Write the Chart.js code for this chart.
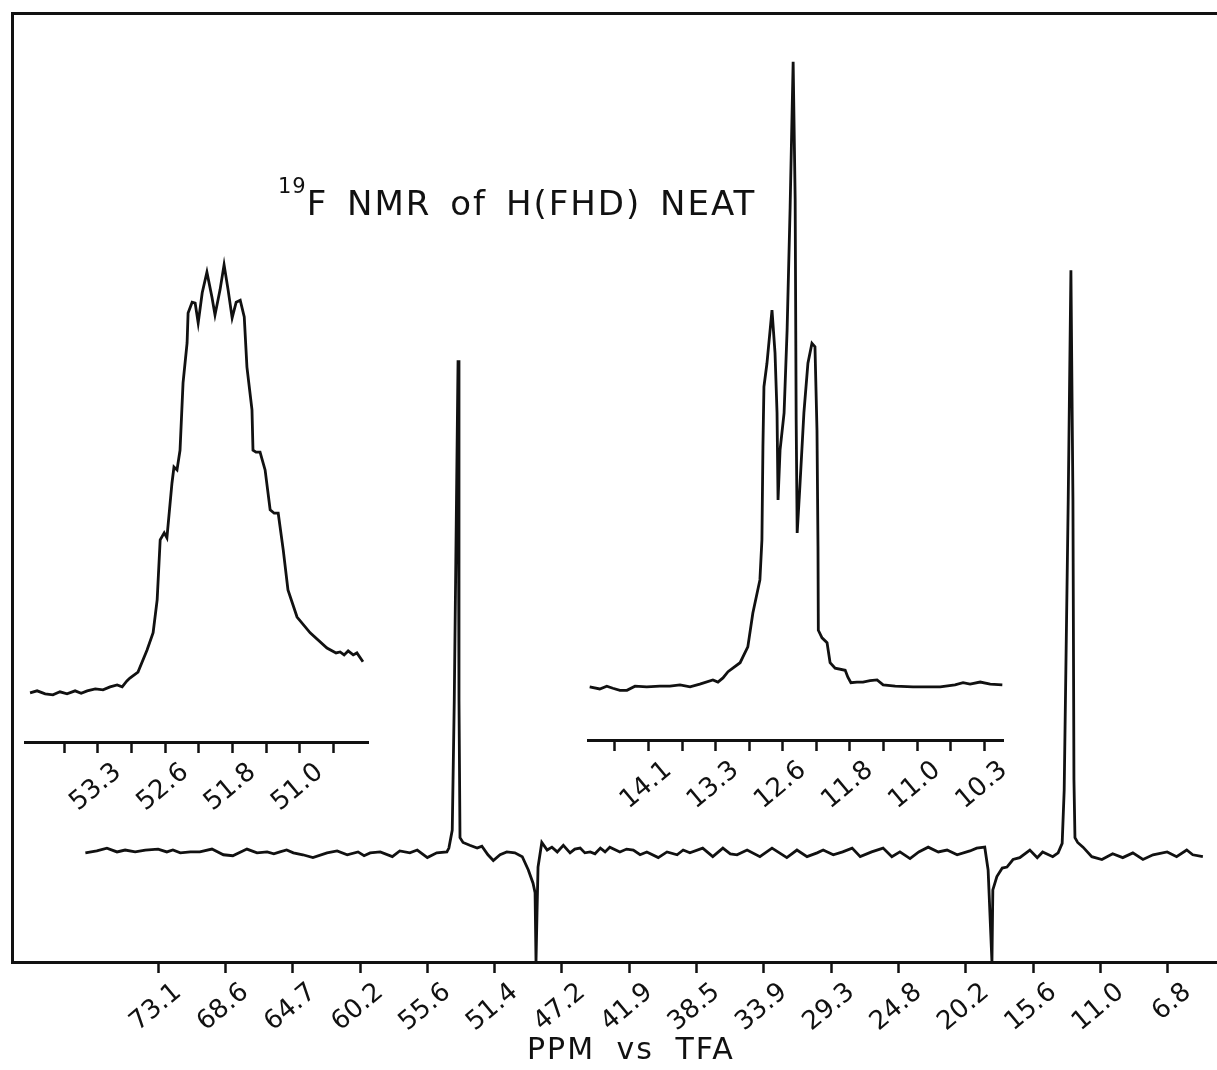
<!DOCTYPE html>
<html>
<head>
<meta charset="utf-8">
<title>19F NMR of H(FHD) NEAT</title>
<script src="https://cdn.jsdelivr.net/npm/chart.js@4.4.1/dist/chart.umd.min.js"></script>
<style>
  html, body { margin: 0; padding: 0; background: #fff; }
  #wrap { position: relative; width: 1217px; height: 1070px; overflow: hidden; background: #fff; }
  canvas { position: absolute; }
  #main { left: 0; top: 0; }
  #insetL { left: 0; top: 240px; }
  #insetR { left: 560px; top: 40px; }
  .txt { position: absolute; font-family: 'DejaVu Sans', sans-serif; color: #111; white-space: nowrap; }
  #title { left: 278px; top: 186px; font-size: 34px; line-height: 34px; letter-spacing: 2px; word-spacing: 6px; }
  #title .sup { font-size: 21px; position: relative; top: -22px; letter-spacing: 1px; }
  #xtitle { left: 527px; top: 1034px; font-size: 30px; line-height: 30px; letter-spacing: 2px; word-spacing: 10px; }
</style>
</head>
<body>
<div id="wrap">
  <canvas id="main" width="1217" height="1070"></canvas>
  <canvas id="insetL" width="400" height="592"></canvas>
  <canvas id="insetR" width="480" height="790"></canvas>
  <div id="title" class="txt"><span class="sup">19</span>F NMR of H(FHD) NEAT</div>
  <div id="xtitle" class="txt">PPM vs TFA</div>
</div>
<script>
// Chart divisions run left to right; each division carries its ppm label.
const mainTickLabels = ['73.1', '68.6', '64.7', '60.2', '55.6', '51.4', '47.2', '41.9',
                        '38.5', '33.9', '29.3', '24.8', '20.2', '15.6', '11.0', '6.8'];

// Full sweep: [division, intensity]
const mainSpectrum = [
  [-1.08, 11.5], [-0.91, 11.7], [-0.76, 12.0], [-0.61, 11.6], [-0.49, 11.8], [-0.34, 11.6],
  [-0.19, 11.8], [0.00, 11.9], [0.13, 11.6], [0.22, 11.8], [0.33, 11.5], [0.48, 11.6],
  [0.62, 11.6], [0.80, 11.9], [0.97, 11.3], [1.11, 11.2], [1.32, 11.9], [1.47, 11.5],
  [1.62, 11.6], [1.72, 11.4], [1.81, 11.6], [1.91, 11.8], [2.01, 11.5], [2.15, 11.3],
  [2.30, 11.0], [2.51, 11.5], [2.66, 11.7], [2.81, 11.3], [2.97, 11.6], [3.06, 11.2],
  [3.15, 11.5], [3.30, 11.6], [3.48, 11.1], [3.59, 11.7], [3.74, 11.5], [3.85, 11.8],
  [4.00, 11.0], [4.14, 11.5], [4.29, 11.6], [4.32, 12.0], [4.37, 13.9], [4.40, 27.6],
  [4.456, 63.4], [4.47, 27.6], [4.485, 13.1], [4.53, 12.6], [4.63, 12.3], [4.74, 12.0],
  [4.81, 12.2], [4.90, 11.3], [4.98, 10.7], [5.08, 11.3], [5.18, 11.6], [5.30, 11.5],
  [5.41, 11.1], [5.50, 9.7], [5.57, 8.3], [5.60, 7.3], [5.614, 0], [5.629, 5.2],
  [5.644, 10.0], [5.70, 12.6], [5.78, 11.8], [5.85, 12.1], [5.93, 11.6], [6.02, 12.3],
  [6.12, 11.5], [6.19, 11.9], [6.27, 12.0], [6.34, 11.5], [6.42, 11.6], [6.49, 11.4],
  [6.57, 12.0], [6.64, 11.6], [6.71, 12.1], [6.86, 11.6], [6.96, 11.9], [7.06, 11.8],
  [7.16, 11.3], [7.26, 11.6], [7.43, 11.0], [7.56, 11.6], [7.71, 11.3], [7.80, 11.8],
  [7.90, 11.5], [8.09, 12.0], [8.24, 11.1], [8.39, 12.0], [8.50, 11.4], [8.60, 11.3],
  [8.75, 11.8], [8.94, 11.1], [9.12, 12.0], [9.23, 11.5], [9.34, 11.0], [9.49, 11.8],
  [9.64, 11.1], [9.79, 11.5], [9.88, 11.8], [10.03, 11.3], [10.17, 11.6], [10.31, 12.0],
  [10.43, 11.1], [10.60, 11.6], [10.77, 12.0], [10.90, 11.1], [11.02, 11.6], [11.17, 10.9],
  [11.30, 11.6], [11.44, 12.1], [11.59, 11.6], [11.72, 11.8], [11.87, 11.3], [12.06, 11.7],
  [12.16, 12.0], [12.28, 12.1], [12.33, 9.7], [12.387, 0], [12.40, 7.6], [12.46, 9.0],
  [12.54, 9.9], [12.61, 10.0], [12.70, 10.8], [12.80, 11.0], [12.95, 11.8], [13.06, 11.0],
  [13.14, 11.6], [13.29, 11.1], [13.37, 11.5], [13.43, 12.5], [13.46, 18.1], [13.52, 48.7],
  [13.56, 72.9], [13.59, 48.7], [13.605, 19.2], [13.62, 13.1], [13.66, 12.6], [13.74, 12.1],
  [13.87, 11.1], [14.02, 10.8], [14.18, 11.4], [14.33, 11.0], [14.48, 11.5], [14.63, 10.8],
  [14.78, 11.3], [14.99, 11.6], [15.13, 11.1], [15.28, 11.8], [15.37, 11.3], [15.52, 11.1]
];

// Expanded sweep around 52 ppm
const leftTickLabels = ['', '53.3', '', '52.6', '', '51.8', '', '51.0', ''];
const leftSpectrum = [
  [-1.02, 10.0], [-0.81, 10.4], [-0.57, 9.8], [-0.34, 9.6], [-0.13, 10.2], [0.08, 9.8],
  [0.32, 10.4], [0.50, 9.9], [0.68, 10.4], [0.92, 10.8], [1.15, 10.6], [1.36, 11.2],
  [1.57, 11.6], [1.72, 11.2], [1.86, 12.4], [1.95, 13.0], [2.19, 14.2], [2.46, 18.7],
  [2.64, 22.2], [2.76, 28.9], [2.85, 41.1], [2.97, 42.5], [3.05, 41.5], [3.20, 52.6],
  [3.26, 55.9], [3.35, 55.3], [3.44, 59.3], [3.53, 73.0], [3.65, 81.1], [3.68, 87.2],
  [3.80, 89.4], [3.89, 89.2], [3.98, 85.2], [4.10, 91.3], [4.24, 95.5], [4.39, 90.4],
  [4.48, 86.8], [4.63, 91.9], [4.75, 97.0], [4.87, 91.9], [4.99, 86.2], [5.11, 89.4],
  [5.23, 89.8], [5.35, 86.4], [5.43, 76.2], [5.58, 67.5], [5.61, 59.3], [5.70, 58.9],
  [5.82, 58.9], [5.97, 55.3], [6.12, 47.2], [6.24, 46.5], [6.36, 46.5], [6.51, 39.0],
  [6.65, 30.9], [6.92, 25.4], [7.31, 22.2], [7.81, 19.1], [8.08, 18.1], [8.20, 18.3],
  [8.32, 17.7], [8.44, 18.5], [8.59, 17.7], [8.70, 18.1], [8.88, 16.3]
];

// Expanded sweep around 12.5 ppm
const rightTickLabels = ['', '14.1', '', '13.3', '', '12.6', '', '11.8', '', '11.0', '', '10.3'];
const rightSpectrum = [
  [-0.75, 7.7], [-0.45, 7.4], [-0.24, 7.8], [-0.06, 7.5], [0.15, 7.2], [0.36, 7.2],
  [0.60, 7.8], [0.95, 7.7], [1.34, 7.8], [1.64, 7.8], [1.94, 8.0], [2.24, 7.7],
  [2.53, 8.1], [2.92, 8.7], [3.07, 8.4], [3.22, 9.0], [3.37, 9.9], [3.73, 11.2],
  [3.96, 13.5], [4.11, 18.4], [4.32, 23.2], [4.38, 29.0], [4.41, 42.5], [4.44, 51.2],
  [4.53, 54.6], [4.68, 62.3], [4.77, 56.1], [4.83, 47.4], [4.86, 34.8], [4.92, 42.0],
  [5.04, 47.4], [5.13, 59.4], [5.22, 77.2], [5.31, 98.3], [5.37, 78.3], [5.40, 46.4],
  [5.43, 30.0], [5.51, 36.7], [5.63, 47.4], [5.75, 54.6], [5.87, 57.5], [5.96, 57.0],
  [6.02, 44.9], [6.05, 28.0], [6.06, 15.9], [6.17, 14.8], [6.32, 14.1], [6.41, 11.2],
  [6.56, 10.4], [6.86, 10.1], [6.94, 9.1], [7.03, 8.3], [7.21, 8.4], [7.39, 8.4],
  [7.60, 8.6], [7.81, 8.7], [7.99, 8.0], [8.35, 7.8], [8.88, 7.7], [9.39, 7.7],
  [9.69, 7.7], [10.13, 8.0], [10.37, 8.3], [10.58, 8.1], [10.88, 8.4], [11.18, 8.1],
  [11.54, 8.0]
];

const INK = '#111';
Chart.defaults.font.family = "'DejaVu Sans', sans-serif";
Chart.defaults.color = INK;

function traceDataset(points) {
  return {
    data: points.map(([x, y]) => ({ x, y })),
    borderColor: INK,
    borderWidth: 2.8,
    pointRadius: 0,
    tension: 0,
    fill: false
  };
}

// Bottom axis with ticks at every division and labels read from a list
function divisionAxis(labels, min, max, height) {
  return {
    type: 'linear',
    position: 'bottom',
    min, max,
    afterBuildTicks: s => { s.ticks = labels.map((_, i) => ({ value: i })); },
    afterFit: s => { s.height = height; },
    ticks: {
      autoSkip: false,
      minRotation: 40,
      maxRotation: 40,
      padding: 4,
      labelOffset: 20,
      color: INK,
      font: { size: 26 },
      callback: (v, i) => labels[i]
    },
    grid: { display: true, drawOnChartArea: false, drawTicks: true, tickLength: 11, tickWidth: 2.5, tickColor: INK },
    border: { display: true, width: 3, color: INK }
  };
}

const common = {
  responsive: false,
  animation: false,
  devicePixelRatio: 1,
  events: [],
  plugins: { legend: { display: false }, tooltip: { enabled: false }, title: { display: false } }
};

// Main spectrum with the frame on the left and top
new Chart(document.getElementById('main'), {
  type: 'line',
  data: { datasets: [traceDataset(mainSpectrum)] },
  options: {
    ...common,
    layout: { padding: { left: 12, top: 13, right: 0, bottom: 0 } },
    scales: {
      x: divisionAxis(mainTickLabels, -2.17, 15.73, 108),
      xTop: {
        type: 'linear', position: 'top', min: -2.17, max: 15.73,
        ticks: { display: false }, grid: { display: false },
        border: { display: true, width: 3, color: INK },
        afterFit: s => { s.height = 0; }
      },
      y: {
        type: 'linear', min: 0, max: 100,
        ticks: { display: false }, grid: { display: false },
        border: { display: true, width: 3, color: INK },
        afterFit: s => { s.width = 0; }
      }
    }
  }
});

// Expansion near 52 ppm
new Chart(document.getElementById('insetL'), {
  type: 'line',
  data: { datasets: [traceDataset(leftSpectrum)] },
  options: {
    ...common,
    layout: { padding: { left: 25, top: 10, right: 32, bottom: 0 } },
    scales: {
      x: divisionAxis(leftTickLabels, -1.17, 9.03, 90),
      y: { type: 'linear', min: 0, max: 100, display: false }
    }
  }
});

// Expansion near 12.5 ppm
new Chart(document.getElementById('insetR'), {
  type: 'line',
  data: { datasets: [traceDataset(rightSpectrum)] },
  options: {
    ...common,
    layout: { padding: { left: 28, top: 10, right: 37, bottom: 0 } },
    scales: {
      x: divisionAxis(rightTickLabels, -0.80, 11.56, 90),
      y: { type: 'linear', min: 0, max: 100, display: false }
    }
  }
});
</script>
</body>
</html>
